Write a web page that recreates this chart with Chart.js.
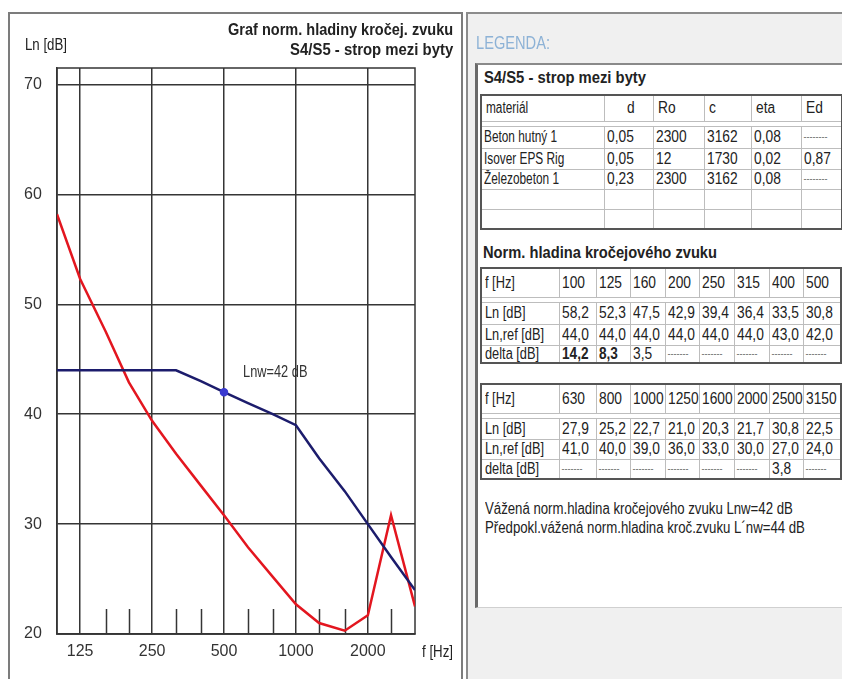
<!DOCTYPE html>
<html>
<head>
<meta charset="utf-8">
<script src="https://cdn.jsdelivr.net/npm/chart.js@4.4.1/dist/chart.umd.min.js"></script>
<style>
  body { margin: 0; width: 842px; height: 679px; overflow: hidden; position: relative; background: #fff;
         font-family: "Liberation Sans", Arial, sans-serif; color: #222; }
  .abs { position: absolute; white-space: nowrap; }
  .fit { display: inline-block; transform-origin: left center; }
  #leftPanel { position: absolute; left: 8px; top: 12px; width: 455px; height: 700px; border: 2px solid #7c7c7c; box-sizing: border-box; background: #fff; }
  #chartCanvas { position: absolute; left: 0; top: 0; }
  .ttl { font-weight: bold; font-size: 16px; line-height: 18px; right: 389px; transform-origin: right center; }
  #rightPanel { position: absolute; left: 466px; top: 12px; width: 400px; height: 700px; border: 2px solid #8c8c8c; box-sizing: border-box; background: #f0f0f0; }
  #legendLabel { left: 476px; top: 33px; font-size: 18px; line-height: 20px; color: #8db2d6; }
  #sheet { position: absolute; left: 475px; top: 63px; width: 380px; height: 545px; background: #fff;
           border-left: 3px solid #6a6a6a; border-top: 2px solid #8a8a8a; border-bottom: 1px solid #d0d0d0; box-sizing: border-box; }
  .bold { font-weight: bold; font-size: 16px; line-height: 20px; }
  table { position: absolute; left: 480px; border-collapse: collapse; table-layout: fixed; border: 2px solid #555; font-size: 16px; }
  td { border: 1px solid #bdbdbd; padding: 0 0 0 2px; white-space: nowrap; overflow: hidden; line-height: 16px; }
  td span { display: inline-block; transform-origin: left center; transform: scaleX(0.86); }
  td.lab { padding-left: 3px; }
  td.lab span { transform: scaleX(0.8); }
  td.name span { transform: scaleX(0.74); }
  td.b { font-weight: bold; }
  td.b span { transform: scaleX(0.85); }
  td.dash { font-size: 9px; color: #555; }
  tr.gap td { height: 4px; border-left: none; border-right: none; }
  .note { left: 485px; font-size: 16px; line-height: 19px; }
</style>
</head>
<body>
<div id="leftPanel"></div>
<canvas id="chartCanvas" width="462" height="679"></canvas>
<div class="abs fit" data-w="42" style="left:25px; top:35px; font-size:17px; line-height:20px;">Ln [dB]</div>
<div class="abs ttl fit" data-w="225" style="top:21px; transform-origin:right center;">Graf norm. hladiny kročej. zvuku</div>
<div class="abs ttl fit" data-w="163" style="top:41px; transform-origin:right center;">S4/S5 - strop mezi byty</div>
<div class="abs fit" data-w="31" style="left:422px; top:642px; font-size:17px; line-height:20px;">f [Hz]</div>

<div id="rightPanel"></div>
<div id="legendLabel" class="abs fit" data-w="74">LEGENDA:</div>
<div id="sheet"></div>
<div class="abs bold fit" data-w="162" style="left:484px; top:68px;">S4/S5 - strop mezi byty</div>
<table id="matTable" style="top:94px; width:361px;"></table>
<div class="abs bold fit" data-w="234" style="left:483px; top:243px;">Norm. hladina kročejového zvuku</div>
<table id="freqTable1" style="top:267px; width:360px;"></table>
<table id="freqTable2" style="top:383px; width:360px;"></table>
<div class="abs note fit" data-w="308" style="top:499px;">Vážená norm.hladina kročejového zvuku Lnw=42 dB</div>
<div class="abs note fit" data-w="320" style="top:518px;">Předpokl.vážená norm.hladina kroč.zvuku L´nw=44 dB</div>

<script>
// Frequencies and levels
const freqs = [100, 125, 160, 200, 250, 315, 400, 500, 630, 800, 1000, 1250, 1600, 2000, 2500, 3150];
const lnValues = [58.2, 52.3, 47.5, 42.9, 39.4, 36.4, 33.5, 30.8, 27.9, 25.2, 22.7, 21.0, 20.3, 21.7, 30.8, 22.5];
const lnRefValues = [44, 44, 44, 44, 44, 44, 43, 42, 41, 40, 39, 36, 33, 30, 27, 24];
const deltaValues = [14.2, 8.3, 3.5, null, null, null, null, null, null, null, null, null, null, null, 3.8, null];
const boldDelta = [true, true, false];
const lnwFreq = 500;
const lnwValue = 42;

// Axis ticks
const xLabelTicks = [125, 250, 500, 1000, 2000];
const xMinorTicks = [160, 200, 315, 400, 630, 800, 1250, 1600, 2500];
const yTicks = [20, 30, 40, 50, 60, 70];

// Materials
const matHeader = ['materiál', 'd', 'Ro', 'c', 'eta', 'Ed'];
const matNames = ['Beton hutný 1', 'Isover EPS Rig', 'Železobeton 1'];
const matD = ['0,05', '0,05', '0,23'];
const matRo = ['2300', '12', '2300'];
const matC = ['3162', '1730', '3162'];
const matEta = ['0,08', '0,02', '0,08'];
const matEd = [null, '0,87', null];

const fmt = v => v.toFixed(1).replace('.', ',');
const gridColor = '#353535';
const cell = (txt, cls) => `<td class="${cls || ''}"><span>${txt}</span></td>`;

// Legend tables
function buildMaterials() {
    const t = document.getElementById('matTable');
    const widths = [123, 49, 51, 47, 50, 41];
    let html = '<colgroup>' + widths.map(w => `<col style="width:${w}px">`).join('') + '</colgroup>';
    html += '<tr style="height:26px">' + matHeader.map((h, i) =>
        `<td class="${i === 0 ? 'name' : ''}" style="padding-left:${i === 1 ? 22 : 4}px"><span>${h}</span></td>`).join('') + '</tr>';
    html += '<tr class="gap">' + widths.map(() => '<td></td>').join('') + '</tr>';
    const rowH = [22, 21, 20];
    matNames.forEach((name, i) => {
        const ed = matEd[i] === null ? '<td class="dash">--------</td>' : cell(matEd[i]);
        html += `<tr style="height:${rowH[i]}px">` + cell(name, 'name') + cell(matD[i]) + cell(matRo[i]) +
            cell(matC[i]) + cell(matEta[i]) + ed + '</tr>';
    });
    for (let k = 0; k < 2; k++) html += '<tr style="height:20px">' + widths.map(() => '<td></td>').join('') + '</tr>';
    t.innerHTML = html;
}

function buildFreqTable(id, start, heights) {
    const t = document.getElementById(id);
    const widths = [78, 37, 34, 35, 34, 35, 35, 34, 38];
    const idx = [0, 1, 2, 3, 4, 5, 6, 7].map(k => k + start);
    let html = '<colgroup>' + widths.map(w => `<col style="width:${w}px">`).join('') + '</colgroup>';
    html += `<tr style="height:${heights[0]}px">` + cell('f [Hz]', 'lab') + idx.map(i => cell(freqs[i])).join('') + '</tr>';
    html += '<tr class="gap">' + widths.map(() => '<td></td>').join('') + '</tr>';
    html += `<tr style="height:${heights[1]}px">` + cell('Ln [dB]', 'lab') + idx.map(i => cell(fmt(lnValues[i]))).join('') + '</tr>';
    html += `<tr style="height:${heights[2]}px">` + cell('Ln,ref [dB]', 'lab') + idx.map(i => cell(fmt(lnRefValues[i]))).join('') + '</tr>';
    html += `<tr style="height:${heights[3]}px">` + cell('delta [dB]', 'lab') + idx.map(i => {
        if (deltaValues[i] === null) return '<td class="dash">-------</td>';
        return cell(fmt(deltaValues[i]), boldDelta[i] ? 'b' : '');
    }).join('') + '</tr>';
    t.innerHTML = html;
}

buildMaterials();
buildFreqTable('freqTable1', 0, [29, 22, 21, 18]);
buildFreqTable('freqTable2', 8, [29, 21, 20, 20]);

// squeeze free text to the reference widths (no narrow font installed)
document.querySelectorAll('[data-w]').forEach(el => {
    const w = el.getBoundingClientRect().width;
    el.style.transform = `scaleX(${(+el.dataset.w / w).toFixed(3)})`;
});

// Chart decorations: frame, short minor ticks, Lnw label
const decorPlugin = {
    id: 'decor',
    beforeDatasetsDraw(chart) {
        const { ctx, chartArea: a, scales } = chart;
        ctx.save();
        ctx.strokeStyle = gridColor;
        ctx.lineWidth = 1.5;
        ctx.strokeRect(a.left, a.top, a.right - a.left, a.bottom - a.top);
        ctx.beginPath();
        xMinorTicks.forEach(f => {
            const x = Math.round(scales.x.getPixelForValue(f)) + 0.5;
            ctx.moveTo(x, a.bottom);
            ctx.lineTo(x, a.bottom - 25);
        });
        ctx.stroke();
        ctx.restore();
    },
    afterDatasetsDraw(chart) {
        const { ctx, scales } = chart;
        const x = scales.x.getPixelForValue(lnwFreq);
        const y = scales.y.getPixelForValue(lnwValue);
        ctx.save();
        ctx.fillStyle = '#333';
        ctx.font = '16px "Liberation Sans", Arial, sans-serif';
        ctx.textBaseline = 'middle';
        ctx.translate(x + 19, y - 20);
        ctx.scale(0.8, 1);
        ctx.fillText('Lnw=' + lnwValue + ' dB', 0, 0);
        ctx.restore();
    }
};

Chart.defaults.font.family = '"Liberation Sans", Arial, sans-serif';

new Chart(document.getElementById('chartCanvas').getContext('2d'), {
    type: 'line',
    data: {
        datasets: [{
            label: 'Ln,ref',
            data: lnRefValues.map((y, i) => ({ x: freqs[i], y })),
            borderColor: '#1c1c6c',
            borderWidth: 2.5,
            tension: 0,
            pointRadius: ctx => (ctx.raw && ctx.raw.x === lnwFreq ? 3 : 0),
            pointBackgroundColor: '#3a3ad0',
            pointBorderColor: '#3a3ad0'
        }, {
            label: 'Ln',
            data: lnValues.map((y, i) => ({ x: freqs[i], y })),
            borderColor: '#e3161f',
            borderWidth: 2.5,
            tension: 0,
            pointRadius: 0
        }]
    },
    options: {
        responsive: false,
        devicePixelRatio: 1,
        animation: false,
        layout: { padding: { left: 24, top: 68, right: 47, bottom: 0 } },
        plugins: { legend: { display: false }, tooltip: { enabled: false } },
        scales: {
            x: {
                type: 'logarithmic',
                min: 100,
                max: 3150,
                afterBuildTicks: scale => { scale.ticks = xLabelTicks.map(v => ({ value: v })); },
                afterFit: scale => { scale.height = 45; },
                grid: { color: gridColor, lineWidth: 1.5, drawTicks: false },
                border: { color: gridColor, width: 1.5 },
                ticks: {
                    color: '#333',
                    font: { size: 16 },
                    padding: 8,
                    maxRotation: 0,
                    autoSkip: false,
                    callback: v => String(v)
                }
            },
            y: {
                min: 20,
                max: 71.5,
                afterBuildTicks: scale => { scale.ticks = yTicks.map(v => ({ value: v })); },
                afterFit: scale => { scale.width = 33; },
                grid: { color: gridColor, lineWidth: 1.5, drawTicks: false },
                border: { color: gridColor, width: 1.5 },
                ticks: {
                    color: '#333',
                    font: { size: 16 },
                    crossAlign: 'far',
                    callback: v => String(v)
                }
            }
        }
    },
    plugins: [decorPlugin]
});
</script>
</body>
</html>
